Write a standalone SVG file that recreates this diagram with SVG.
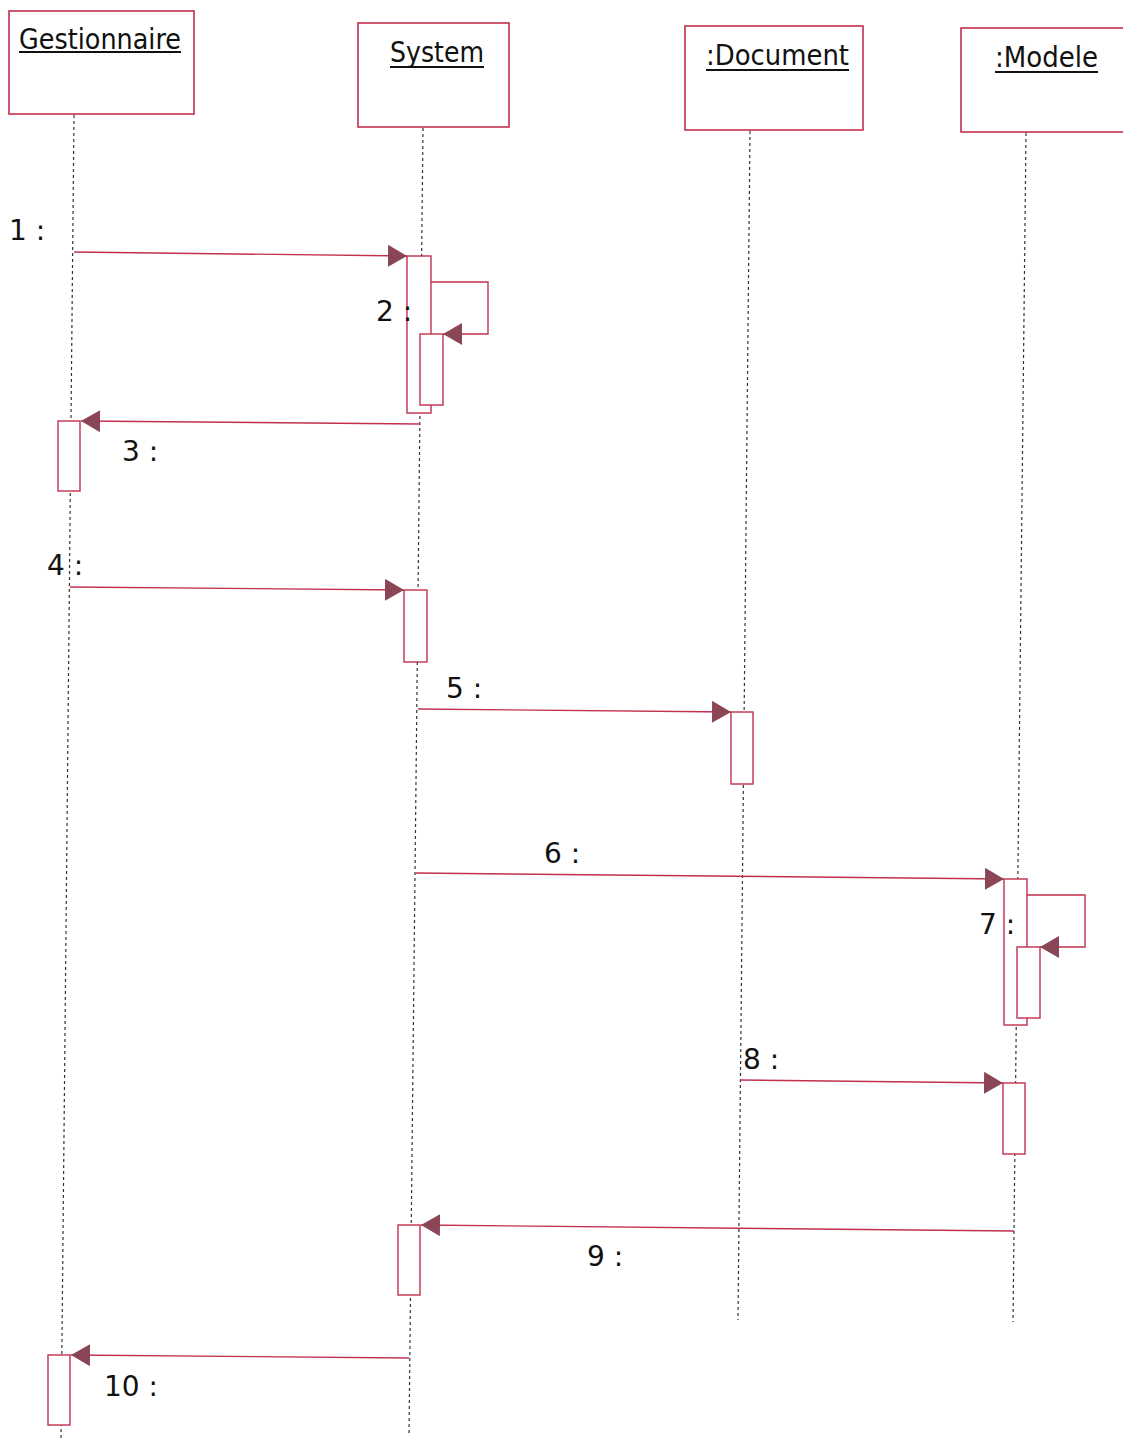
<svg xmlns="http://www.w3.org/2000/svg" width="1123" height="1444" viewBox="0 0 1123 1444">
<style>
.box{fill:#fff;stroke:#c2304e;stroke-width:1.6}
.act{fill:#fff;stroke:#c2304e;stroke-width:1.4}
.life{stroke:#333;stroke-width:1.2;stroke-dasharray:3,3;fill:none}
.msg{stroke:#c2304e;stroke-width:1.4;fill:none}
.hdr{font-family:"DejaVu Sans",Verdana,sans-serif;font-size:29px;fill:#111}
.ul{stroke:#111;stroke-width:2}
.lbl{font-family:"DejaVu Sans",Verdana,sans-serif;font-size:28px;fill:#111}
</style>
<defs>
<marker id="ah" markerUnits="userSpaceOnUse" markerWidth="22" markerHeight="24" refX="19" refY="11" orient="auto">
<path d="M0,0 L19,11 L0,22 Z" fill="#8b4656"/>
</marker>
</defs>
<rect width="1123" height="1444" fill="#fff"/>

<g id="lifelines">
<line class="life" x1="74" y1="115" x2="61" y2="1440"/>
<line class="life" x1="423" y1="128" x2="409" y2="1435"/>
<line class="life" x1="750" y1="131" x2="738" y2="1320"/>
<line class="life" x1="1026" y1="133" x2="1013" y2="1322"/>
</g>

<g id="Gestionnaire">
<rect class="box" x="9" y="11" width="185" height="103"/>
<text class="hdr" x="19" y="49" textLength="162" lengthAdjust="spacingAndGlyphs">Gestionnaire</text>
<line class="ul" x1="19" y1="52" x2="181" y2="52"/>
</g>
<g id="System">
<rect class="box" x="358" y="23" width="151" height="104"/>
<text class="hdr" x="390" y="62" textLength="94" lengthAdjust="spacingAndGlyphs">System</text>
<line class="ul" x1="390" y1="67" x2="484" y2="67"/>
</g>
<g id="Document">
<rect class="box" x="685" y="26" width="178" height="104"/>
<text class="hdr" x="706" y="65" textLength="143" lengthAdjust="spacingAndGlyphs">:Document</text>
<line class="ul" x1="706" y1="70" x2="849" y2="70"/>
</g>
<g id="Modele">
<rect class="box" x="961" y="28" width="170" height="104"/>
<text class="hdr" x="995" y="67" textLength="103" lengthAdjust="spacingAndGlyphs">:Modele</text>
<line class="ul" x1="995" y1="72" x2="1098" y2="72"/>
</g>

<g id="activations">
<rect class="act" x="407" y="256" width="24" height="157"/>
<rect class="act" x="420" y="334" width="23" height="71"/>
<rect class="act" x="58" y="421" width="22" height="70"/>
<rect class="act" x="404" y="590" width="23" height="72"/>
<rect class="act" x="731" y="712" width="22" height="72"/>
<rect class="act" x="1004" y="879" width="23" height="146"/>
<rect class="act" x="1017" y="947" width="23" height="71"/>
<rect class="act" x="1003" y="1083" width="22" height="71"/>
<rect class="act" x="398" y="1225" width="22" height="70"/>
<rect class="act" x="48" y="1355" width="22" height="70"/>
</g>

<g id="connectors">
<line class="msg" x1="74" y1="252" x2="407" y2="256" marker-end="url(#ah)"/>
<polyline class="msg" points="431,282 488,282 488,334 443,334" marker-end="url(#ah)"/>
<line class="msg" x1="420" y1="424" x2="81" y2="421" marker-end="url(#ah)"/>
<line class="msg" x1="70" y1="587" x2="404" y2="590" marker-end="url(#ah)"/>
<line class="msg" x1="418" y1="709" x2="731" y2="712" marker-end="url(#ah)"/>
<line class="msg" x1="416" y1="873" x2="1004" y2="879" marker-end="url(#ah)"/>
<polyline class="msg" points="1027,895 1085,895 1085,947 1040,947" marker-end="url(#ah)"/>
<line class="msg" x1="740" y1="1080" x2="1003" y2="1083" marker-end="url(#ah)"/>
<line class="msg" x1="1014" y1="1231" x2="421" y2="1225" marker-end="url(#ah)"/>
<line class="msg" x1="409" y1="1358" x2="71" y2="1355" marker-end="url(#ah)"/>
</g>

<g id="labels">
<text class="lbl" x="9" y="240">1 :</text>
<text class="lbl" x="376" y="321">2 :</text>
<text class="lbl" x="122" y="461">3 :</text>
<text class="lbl" x="47" y="575">4 :</text>
<text class="lbl" x="446" y="698">5 :</text>
<text class="lbl" x="544" y="863">6 :</text>
<text class="lbl" x="979" y="934">7 :</text>
<text class="lbl" x="743" y="1069">8 :</text>
<text class="lbl" x="587" y="1266">9 :</text>
<text class="lbl" x="104" y="1396">10 :</text>
</g>
</svg>
